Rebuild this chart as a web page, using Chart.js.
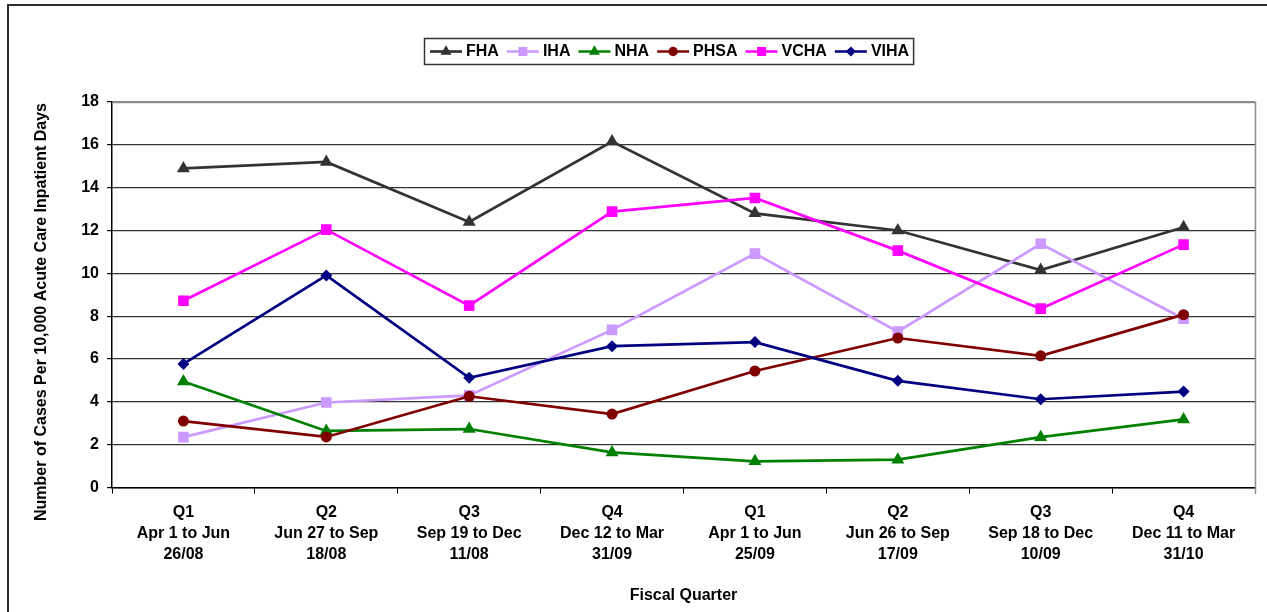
<!DOCTYPE html>
<html>
<head>
<meta charset="utf-8">
<title>Cases Per 10,000 Acute Care Inpatient Days by Fiscal Quarter</title>
<script src="https://cdn.jsdelivr.net/npm/chart.js@4/dist/chart.umd.min.js"></script>
<style>
  html, body { margin: 0; padding: 0; background: #ffffff; }
  #wrap { width: 1267px; height: 612px; position: relative; }
</style>
</head>
<body>
<div id="wrap"><canvas id="chart" width="1267" height="612"></canvas></div>
<script>
// Fiscal quarters (2008/09 and 2009/10)
const quarters = [
  ["Q1", "Apr 1 to Jun", "26/08"],
  ["Q2", "Jun 27 to Sep", "18/08"],
  ["Q3", "Sep 19 to Dec", "11/08"],
  ["Q4", "Dec 12 to Mar", "31/09"],
  ["Q1", "Apr 1 to Jun", "25/09"],
  ["Q2", "Jun 26 to Sep", "17/09"],
  ["Q3", "Sep 18 to Dec", "10/09"],
  ["Q4", "Dec 11 to Mar", "31/10"]
];

// Rates per health authority
const fha  = [14.9, 15.2, 12.4, 16.15, 12.8, 12.0, 10.15, 12.15];
const iha  = [2.35, 3.97, 4.3, 7.36, 10.92, 7.28, 11.38, 7.88];
const nha  = [4.95, 2.64, 2.73, 1.64, 1.22, 1.3, 2.35, 3.18];
const phsa = [3.1, 2.36, 4.26, 3.43, 5.44, 6.98, 6.15, 8.07];
const vcha = [8.72, 12.04, 8.49, 12.88, 13.52, 11.06, 8.35, 11.34];
const viha = [5.77, 9.9, 5.12, 6.6, 6.79, 4.98, 4.12, 4.48];

const seriesNames = ["FHA", "IHA", "NHA", "PHSA", "VCHA", "VIHA"];
const yTicks = [0, 2, 4, 6, 8, 10, 12, 14, 16, 18];
const yAxisTitle = "Number of Cases Per 10,000 Acute Care Inpatient Days";

const FONT = "'Liberation Sans', Arial, Helvetica, sans-serif";

const styles = [
  { color: "#333333", point: "triangle", radius: 7.5 },
  { color: "#CC99FF", point: "rect", radius: 7.5 },
  { color: "#008000", point: "triangle", radius: 7.5 },
  { color: "#800000", point: "circle", radius: 5.5 },
  { color: "#FF00FF", point: "rect", radius: 7.5 },
  { color: "#000080", point: "rectRot", radius: 6 }
];
const seriesData = [fha, iha, nha, phsa, vcha, viha];

const datasets = seriesNames.map((name, i) => ({
  label: name,
  data: seriesData[i],
  borderColor: styles[i].color,
  backgroundColor: styles[i].color,
  pointBackgroundColor: styles[i].color,
  pointBorderColor: styles[i].color,
  pointBorderWidth: 0,
  pointStyle: styles[i].point,
  pointRadius: styles[i].radius,
  pointHoverRadius: styles[i].radius,
  borderWidth: 2.7,
  tension: 0,
  fill: false,
  order: seriesNames.length - i
}));

// White page, outer frame, plot border and the vertical axis caption
const framePlugin = {
  id: "frame",
  beforeDraw(chart) {
    const ctx = chart.ctx;
    ctx.save();
    ctx.fillStyle = "#ffffff";
    ctx.fillRect(0, 0, chart.width, chart.height);
    ctx.restore();
  },
  beforeDatasetsDraw(chart) {
    const { ctx, chartArea } = chart;
    ctx.save();
    ctx.strokeStyle = "#8c8c8c";
    ctx.lineWidth = 1.5;
    ctx.beginPath();
    ctx.moveTo(chartArea.left, Math.round(chartArea.top) + 0.5);
    ctx.lineTo(Math.round(chartArea.right) + 0.5, Math.round(chartArea.top) + 0.5);
    ctx.lineTo(Math.round(chartArea.right) + 0.5, chartArea.bottom + 6);
    ctx.stroke();
    ctx.restore();
  },
  afterDraw(chart) {
    const ctx = chart.ctx;
    ctx.save();
    ctx.strokeStyle = "#2b2b2b";
    ctx.lineWidth = 2;
    ctx.beginPath();
    ctx.moveTo(8, chart.height);
    ctx.lineTo(8, 5);
    ctx.lineTo(chart.width, 5);
    ctx.stroke();
    ctx.translate(42, 312);
    ctx.rotate(-Math.PI / 2);
    ctx.font = "bold 16px " + FONT;
    ctx.fillStyle = "#000000";
    ctx.textAlign = "center";
    ctx.textBaseline = "middle";
    ctx.fillText(yAxisTitle, 0, 0);
    ctx.restore();
  }
};

// Boxed legend: line sample with marker, then the series name
const boxedLegend = {
  id: "boxedLegend",
  afterDraw(chart) {
    const ctx = chart.ctx;
    const boxLeft = 424, boxTop = 38, boxH = 26;
    const lineLen = 32, textGap = 4, itemGap = 8, padL = 6, padR = 4;
    ctx.save();
    ctx.font = "bold 16px " + FONT;
    let w = padL;
    chart.data.datasets.forEach((ds, i) => {
      w += lineLen + textGap + ctx.measureText(ds.label).width;
      if (i < chart.data.datasets.length - 1) w += itemGap;
    });
    w += padR;
    ctx.fillStyle = "#ffffff";
    ctx.fillRect(boxLeft, boxTop, w, boxH);
    ctx.strokeStyle = "#333333";
    ctx.lineWidth = 1.5;
    ctx.strokeRect(boxLeft + 0.5, boxTop + 0.5, w, boxH);
    const cy = boxTop + boxH / 2 + 0.5;
    let x = boxLeft + padL;
    chart.data.datasets.forEach((ds) => {
      ctx.strokeStyle = ds.borderColor;
      ctx.lineWidth = ds.borderWidth;
      ctx.beginPath();
      ctx.moveTo(x, cy);
      ctx.lineTo(x + lineLen, cy);
      ctx.stroke();
      ctx.fillStyle = ds.pointBackgroundColor;
      ctx.strokeStyle = ds.pointBorderColor;
      Chart.helpers.drawPoint(ctx, {
        pointStyle: ds.pointStyle,
        radius: ds.pointRadius * 0.85,
        rotation: 0,
        borderWidth: 0
      }, x + lineLen / 2, cy);
      x += lineLen + textGap;
      ctx.fillStyle = "#000000";
      ctx.textBaseline = "middle";
      ctx.textAlign = "left";
      ctx.fillText(ds.label, x, cy + 0.5);
      x += ctx.measureText(ds.label).width + itemGap;
    });
    ctx.restore();
  }
};

new Chart(document.getElementById("chart"), {
  type: "line",
  data: { labels: quarters, datasets },
  plugins: [framePlugin, boxedLegend],
  options: {
    responsive: false,
    animation: false,
    events: [],
    layout: { padding: { top: 102, left: 0, right: 12, bottom: 0 } },
    plugins: {
      legend: { display: false },
      tooltip: { enabled: false },
      title: { display: false }
    },
    scales: {
      x: {
        type: "category",
        offset: true,
        afterFit(scale) { scale.height = 124.5; },
        border: { display: true, color: "#000000", width: 1.5 },
        grid: {
          display: true,
          offset: true,
          drawOnChartArea: false,
          drawTicks: true,
          tickLength: 6,
          color: "#000000",
          tickColor: "#000000",
          lineWidth: 1
        },
        ticks: {
          color: "#000000",
          font: { family: FONT, size: 16, weight: "bold", lineHeight: 1.3125 },
          padding: 9,
          maxRotation: 0,
          autoSkip: false
        },
        title: {
          display: true,
          text: "Fiscal Quarter",
          color: "#000000",
          font: { family: FONT, size: 16, weight: "bold" },
          padding: { top: 0, bottom: 6.4 }
        }
      },
      y: {
        min: 0,
        max: 18,
        afterFit(scale) { scale.width = 112; },
        afterBuildTicks(scale) { scale.ticks = yTicks.map(v => ({ value: v })); },
        border: { display: true, color: "#000000", width: 1.5 },
        grid: {
          display: true,
          drawTicks: true,
          tickLength: 5,
          color: (c) => (c.tick && c.tick.value === 18 ? "#8c8c8c" : "#333333"),
          tickColor: "#000000",
          lineWidth: 1.2
        },
        ticks: {
          color: "#000000",
          font: { family: FONT, size: 16, weight: "bold" },
          padding: 8
        },
        title: { display: false }
      }
    }
  }
});
</script>
</body>
</html>
